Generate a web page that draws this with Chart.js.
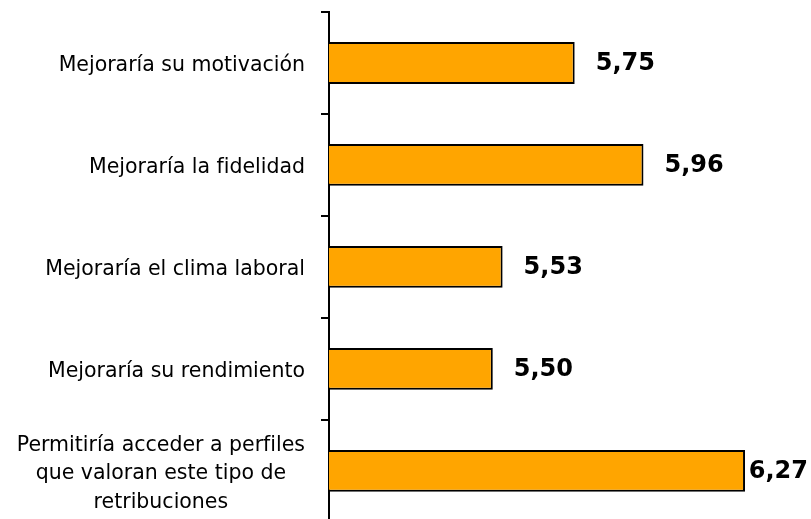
<!DOCTYPE html>
<html lang="es">
<head>
<meta charset="UTF-8">
<title>Valoración</title>
<script src="https://cdn.jsdelivr.net/npm/chart.js"></script>
<style>
    html, body { margin: 0; padding: 0; background: #fff; overflow: hidden; }
    .chart-container { position: relative; width: 811px; height: 532px; }
</style>
</head>
<body>
<div class="chart-container">
    <canvas id="barChart"></canvas>
</div>
<script>
    // categorías (cada una con sus líneas) y valores
    const categories = [
        ['Mejoraría su motivación'],
        ['Mejoraría la fidelidad'],
        ['Mejoraría el clima laboral'],
        ['Mejoraría su rendimiento'],
        ['Permitiría acceder a perfiles', 'que valoran este tipo de', 'retribuciones']
    ];
    const values = [5.75, 5.96, 5.53, 5.50, 6.27];
    const valueLabels = ['5,75', '5,96', '5,53', '5,50', '6,27'];

    const labelFont = '20.5px "DejaVu Sans", Verdana, sans-serif';
    const valueFont = 'bold 24px "DejaVu Sans", Verdana, sans-serif';

    // etiquetas de categoría: bloque alineado a la derecha, líneas centradas
    const categoryLabels = {
        id: 'categoryLabels',
        afterDraw(chart) {
            const ctx = chart.ctx;
            const yScale = chart.scales.y;
            const rightEdge = 305;
            const lineHeight = 28.5;
            ctx.save();
            ctx.font = labelFont;
            ctx.fillStyle = '#000';
            ctx.textBaseline = 'middle';
            ctx.textAlign = 'center';
            categories.forEach((lines, i) => {
                const y = yScale.getPixelForTick(i) + 3;
                const maxW = Math.max(...lines.map(l => ctx.measureText(l).width));
                const cx = rightEdge - maxW / 2;
                const y0 = y - (lines.length - 1) * lineHeight / 2;
                lines.forEach((l, j) => ctx.fillText(l, cx, y0 + j * lineHeight));
            });
            ctx.restore();
        }
    };

    // valores al final de cada barra
    const valueLabelsPlugin = {
        id: 'valueLabels',
        afterDatasetsDraw(chart) {
            const ctx = chart.ctx;
            const meta = chart.getDatasetMeta(0);
            ctx.save();
            ctx.font = valueFont;
            ctx.fillStyle = '#000';
            ctx.textBaseline = 'middle';
            ctx.textAlign = 'left';
            meta.data.forEach((bar, i) => {
                const w = ctx.measureText(valueLabels[i]).width;
                const x = Math.min(bar.x + 21, chart.width - w - 3);
                ctx.fillText(valueLabels[i], x, bar.y + 1);
            });
            ctx.restore();
        }
    };

    new Chart(document.getElementById('barChart').getContext('2d'), {
        type: 'bar',
        data: {
            labels: categories.map(c => c.join(' ')),
            datasets: [{
                data: values,
                backgroundColor: '#FFA500',
                borderColor: '#000',
                borderWidth: 2,
                borderSkipped: false,
                categoryPercentage: 1,
                barPercentage: 0.41
            }]
        },
        options: {
            indexAxis: 'y',
            responsive: true,
            maintainAspectRatio: false,
            animation: false,
            layout: { padding: { top: 12, bottom: 2, right: 7, left: 0 } },
            plugins: {
                legend: { display: false },
                tooltip: { enabled: false }
            },
            scales: {
                x: {
                    display: false,
                    min: 5,
                    max: 6.45
                },
                y: {
                    offset: true,
                    afterFit(scale) { scale.width = 329; },
                    grid: {
                        offset: true,
                        drawOnChartArea: false,
                        drawTicks: true,
                        tickLength: 8,
                        color: '#000',
                        lineWidth: 2
                    },
                    border: { display: true, color: '#000', width: 2 },
                    ticks: { callback: () => '' }
                }
            }
        },
        plugins: [categoryLabels, valueLabelsPlugin]
    });
</script>
</body>
</html>
